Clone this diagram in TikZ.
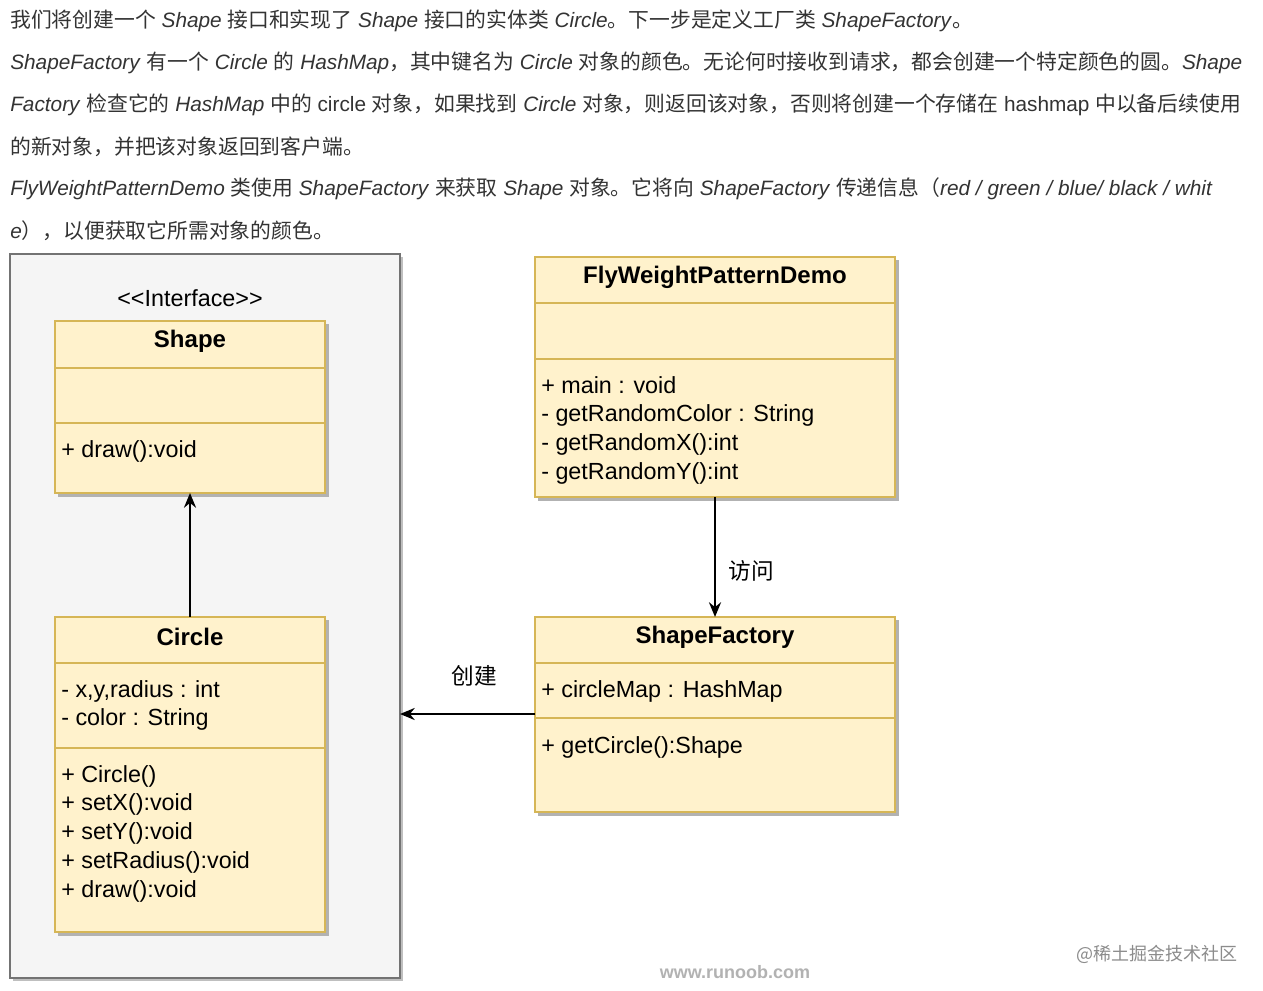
\documentclass[tikz,border=0pt]{standalone}
\usepackage{fontspec}
\setmainfont{Liberation Sans}
\newfontfamily\cjk{Noto Sans CJK SC}
\usetikzlibrary{arrows.meta}
\definecolor{txt}{HTML}{333333}
\definecolor{cfill}{HTML}{FFF2CC}
\definecolor{cline}{HTML}{D6B656}
\definecolor{bgfill}{HTML}{F5F5F5}
\newcommand{\I}[1]{\textit{#1}}
\newcommand{\C}[1]{{\cjk #1}}
\begin{document}
\begin{tikzpicture}[x=0.75pt,y=-0.75pt,
  para/.style={anchor=west,inner sep=0pt,text=txt,font=\fontsize{15.6}{18}\selectfont},
  box/.style={fill=cfill,draw=cline,line width=1.5pt},
  shad/.style={fill=black!30,draw=none},
  sep/.style={draw=cline,line width=1.2pt},
  body/.style={anchor=north west,align=left,inner sep=0pt,font=\fontsize{17.5}{21.6}\selectfont},
  head/.style={inner sep=0pt,font=\bfseries\fontsize{18}{21}\selectfont},
  arr/.style={line width=1.8pt,-{Stealth[length=11pt,width=9pt]}}]
\useasboundingbox (0,0) rectangle (1263,991);
\fill[white] (0,0) rectangle (1263,991);
% text
\node[para] (l1) at (10,21) {\C{我们将创建一个} \I{Shape} \C{接口和实现了} \I{Shape} \C{接口的实体类} \I{Circle}\C{。下一步是定义工厂类} \I{ShapeFactory}\C{。}};
\node[para] (l2) at (10,63) {\I{ShapeFactory} \C{有一个} \I{Circle} \C{的} \I{HashMap}\C{，其中键名为} \I{Circle} \C{对象的颜色。无论何时接收到请求，都会创建一个特定颜色的圆。}\I{Shape}};
\node[para] (l3) at (10,105) {\I{Factory} \C{检查它的} \I{HashMap} \C{中的} circle \C{对象，如果找到} \I{Circle} \C{对象，则返回该对象，否则将创建一个存储在} hashmap \C{中以备后续使用}};
\node[para] (l4) at (10,147) {\C{的新对象，并把该对象返回到客户端。}};
\node[para] (l5) at (10,189) {\I{FlyWeightPatternDemo} \C{类使用} \I{ShapeFactory} \C{来获取} \I{Shape} \C{对象。它将向} \I{ShapeFactory} \C{传递信息（}\I{red / green / blue/ black / whit}};
\node[para] (l6) at (10,231) {\I{e}\C{），以便获取它所需对象的颜色。}};
% outer box
\fill[black!25] (13,257) rectangle (403,981);
\draw[fill=bgfill,draw=black!55,line width=1pt] (10,254) rectangle (400,978);
\node[font=\fontsize{17.5}{20}\selectfont] (iface) at (190,298) {<{}<Interface>{}>};
% Shape
\fill[shad] (58,324) rectangle (329,497);
\draw[box] (55,321) rectangle (325,493);
\draw[sep] (55,368) -- (325,368); \draw[sep] (55,423) -- (325,423);
\node[head] (shape) at (190,341) {Shape};
\node[body] (shapem) at (61,440) {+ draw():void};
\coordinate (shapeB) at (190,493);
% Circle
\fill[shad] (58,620) rectangle (329,936);
\draw[box] (55,617) rectangle (325,932);
\draw[sep] (55,663) -- (325,663); \draw[sep] (55,748) -- (325,748);
\node[head] (circle) at (190,637) {Circle};
\node[body] (circlea) at (61,680) {- x,y,radius : int\\- color : String};
\node[body] (circlem) at (61,765) {+ Circle()\\+ setX():void\\+ setY():void\\+ setRadius():void\\+ draw():void};
\coordinate (circleT) at (190,617);
% FlyWeight
\fill[shad] (538,260) rectangle (899,501);
\draw[box] (535,257) rectangle (895,497);
\draw[sep] (535,303) -- (895,303); \draw[sep] (535,359) -- (895,359);
\node[head] (demo) at (715,277) {FlyWeightPatternDemo};
\node[body] (demom) at (541,376) {+ main : void\\- getRandomColor : String\\- getRandomX():int\\- getRandomY():int};
\coordinate (demoB) at (715,497);
% ShapeFactory
\fill[shad] (538,620) rectangle (899,816);
\draw[box] (535,617) rectangle (895,812);
\draw[sep] (535,663) -- (895,663); \draw[sep] (535,718) -- (895,718);
\node[head] (sf) at (715,637) {ShapeFactory};
\node[body] (sfa) at (541,680) {+ circleMap : HashMap};
\node[body] (sfm) at (541,736) {+ getCircle():Shape};
\coordinate (sfT) at (715,617);
\coordinate (sfL) at (535,714);
\coordinate (outR) at (400,714);
% arrows
\draw[arr] (circleT) -- (shapeB);
\draw[arr] (demoB) -- (sfT);
\draw[arr] (sfL) -- (outR);
\node[font=\cjk\fontsize{17}{20}\selectfont] (visit) at (751,571) {访问};
\node[font=\cjk\fontsize{17}{20}\selectfont] (create) at (474,676) {创建};
% watermarks
\node[text=black!30,font=\bfseries\fontsize{13.5}{15}\selectfont] (wm1) at (735,972) {www.runoob.com};
\node[text=black!45,font=\cjk\fontsize{13.5}{15}\selectfont] (wm2) at (1157,954) {@稀土掘金技术社区};
\end{tikzpicture}
\end{document}
